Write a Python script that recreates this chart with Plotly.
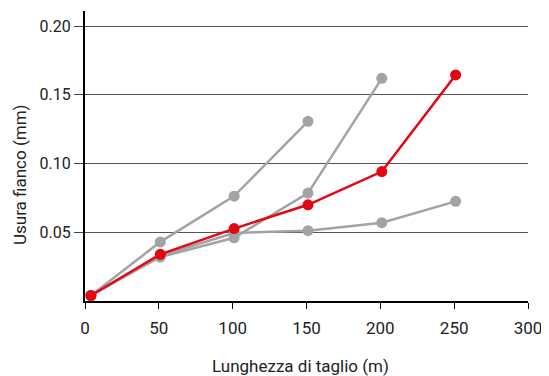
import plotly.graph_objects as go

x_vals = [4, 51, 101, 151, 201, 251]

gray_a = [0.004, 0.043, 0.0763, 0.1307]
gray_b = [0.004, 0.032, 0.046, 0.0785, 0.162]
gray_c = [0.004, 0.033, 0.0495, 0.0512, 0.057, 0.0725]
red = [0.004, 0.034, 0.0527, 0.070, 0.0942, 0.1645]

x_ticks = [0, 50, 100, 150, 200, 250, 300]
y_ticks = [0.05, 0.10, 0.15, 0.20]
y_tick_text = ["0.05", "0.10", "0.15", "0.20"]

x_title = "Lunghezza di taglio (m)"
y_title = "Usura fianco (mm)"

GRAY = "#a3a3a3"
RED = "#e30613"

fig = go.Figure()
for ys in (gray_a, gray_b, gray_c):
    fig.add_trace(go.Scatter(x=x_vals[:len(ys)], y=ys, mode="lines+markers",
                             line=dict(color=GRAY, width=2.5),
                             marker=dict(color=GRAY, size=11),
                             showlegend=False, cliponaxis=False))
fig.add_trace(go.Scatter(x=x_vals, y=red, mode="lines+markers",
                         line=dict(color=RED, width=2.5),
                         marker=dict(color=RED, size=11),
                         showlegend=False, cliponaxis=False))

font = dict(family="Roboto, sans-serif", size=16, color="#222")

fig.update_layout(
    width=541, height=368,
    margin=dict(l=77, r=21, t=3, b=75, autoexpand=False),
    paper_bgcolor="white", plot_bgcolor="white",
    font=font,
    xaxis=dict(range=[0, 300], tickvals=x_ticks, showgrid=False, zeroline=False,
               showline=True, linecolor="black", linewidth=2,
               ticks="outside", ticklen=6, tickcolor="black", tickwidth=1,
               tickfont=dict(size=17), automargin=False, ticklabelstandoff=5),
    yaxis=dict(range=[0, 0.211], tickvals=y_ticks, ticktext=y_tick_text,
               showgrid=True, gridcolor="#555", gridwidth=1.3, zeroline=False,
               showline=True, linecolor="black", linewidth=2,
               ticks="outside", ticklen=9, tickcolor="#444", tickwidth=1,
               tickfont=dict(size=16), automargin=False),
    annotations=[
        dict(text=x_title, xref="paper", yref="paper", x=0.5, y=0,
             xanchor="center", yanchor="middle", xshift=-6, yshift=-65,
             showarrow=False, font=dict(size=17)),
        dict(text=y_title, xref="paper", yref="paper", x=0, y=0.5,
             xanchor="center", yanchor="middle", xshift=-65, yshift=-19,
             textangle=-90, showarrow=False, font=dict(size=17)),
    ],
)

fig.write_html("out.html")
